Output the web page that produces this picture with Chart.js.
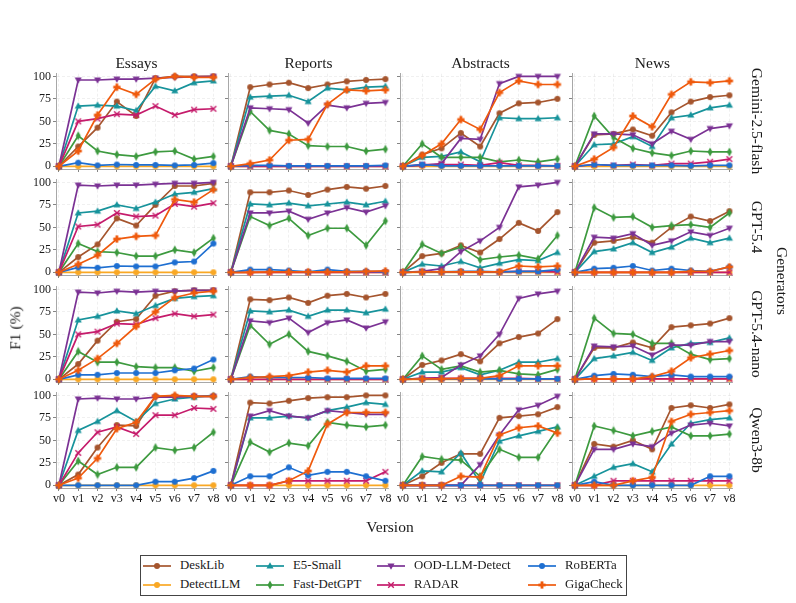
<!DOCTYPE html>
<html><head><meta charset="utf-8">
<script src="https://cdn.jsdelivr.net/npm/chart.js@4/dist/chart.umd.min.js"></script>
<style>
html,body{margin:0;padding:0;background:#fff}
body{width:796px;height:603px;overflow:hidden;position:relative;font-family:"Liberation Serif","DejaVu Serif",serif;color:#1a1a1a}
canvas.p{position:absolute}
.t{position:absolute;white-space:nowrap;font-size:15px;line-height:1}
#legend{position:absolute;left:140px;top:555px;width:485px;height:39px;border:1px solid #444;background:#fff}
.li{position:absolute;font-size:12.8px;line-height:1;white-space:nowrap}
</style></head><body>
<script>
// ---------- categories / labels ----------
const versions = ['v0','v1','v2','v3','v4','v5','v6','v7','v8'];
const methods = ['DeskLib','DetectLLM','E5-Small','Fast-DetGPT','OOD-LLM-Detect','RADAR','RoBERTa','GigaCheck'];
const domains = ['Essays','Reports','Abstracts','News'];
const generators = ['Gemini-2.5-flash','GPT-5.4','GPT-5.4-nano','Qwen3-8b'];
const yTickValues = [0,25,50,75,100];

// ---------- values (rows in the order of `methods`) ----------
const geminiEssays = [
  [0,22,43,72,56,98,100,100,100],
  [0,0,0,0,0,0,0,0,0],
  [0,67,68,67,62,89,84,93,95],
  [0,34,17,13,11,16,17,8,11],
  [0,96,96,97,97,98,99,99.5,100],
  [0,50,53,58,57,67,57,63,64],
  [0,4,1,2,1.5,1.5,1,1.5,3.5],
  [0,17,57,88,80,97,100,99,99]];
const geminiReports = [
  [0,88,91,93,87,91,94.5,96,97],
  [0,0,0,0,0,0,0,0,0],
  [0,77,78,79,72,87,85,88,89],
  [0,61,40,36,23,22,22,17,19],
  [0,65,64,63,48,68,65,70,71],
  [0,0,0,0,0,0,0,0,0],
  [0,1,1,0.5,0.5,0.5,0.5,0.5,1],
  [0,3,7,29,30,69,85,84,85]];
const geminiAbstracts = [
  [0,13,20,37,22,59,70,71,75],
  [0,0,0,0,0,0,0,0,0],
  [0,10,11,16,5,54,53,53,54],
  [0,25,10,10,10,5,7,5,8],
  [0,1,3,31,30,92,100,100,100],
  [0,2,2,2,1,4,1,1,0.5],
  [0,2,0.5,0.5,0.5,0.5,0.5,0.5,0.5],
  [0,12,25,52,41,82,95,91,91]];
const geminiNews = [
  [0,35,36,41,34,60,72,77,79],
  [0,0,0,0,0,0,0,0,0],
  [0,24,25,33,22,54,57,65,68],
  [0,56,32,20,15,12,17,16,16],
  [0,36,36,35,25,39,30,42,45],
  [0,2,1,2,1,3,3,5,8],
  [0,2,1,1,1,1,0.5,1,1],
  [0,8,21,56,44,80,94,93,95]];

const gpt54Essays = [
  [0,17,31,60,52,75,96,96,99],
  [0,0,0,0,0,0,0,0,0],
  [0,66,68,75,71,78,87,89,93],
  [0,32,23,22,18,18,25,22,38],
  [0,97,96,97,97,98,99,99,100],
  [0,51,53,66,62,63,76,73,77],
  [0,5.5,5,7,6.5,6.5,11,12,32],
  [0,9,19,37,40,41,81,78,92]];
const gpt54Reports = [
  [0,89,89,91,86,92,95,93,96],
  [0,0,0,0,0,0,0,0,0],
  [0,76,75,77,74,76,78,75,79],
  [0,62,52,60,41,49,49,30,57],
  [0,66,66,68,59,66,72,67,74],
  [0,0,0,0,0,0,0,0,0],
  [0,3,3,2,0.5,3,1,1,0.5],
  [0,0,0.5,0.5,0.5,0.5,0.5,1,1.5]];
const gpt54Abstracts = [
  [0,18,21,30,22,37,55,46,67],
  [0,0,0,0,0,0,0,0,0],
  [0,9,7,12,5,10,14,13,22],
  [0,31,21,28,14,17,19,15,41],
  [0,1,4,23,35,50,95,97,100],
  [0,0.5,0.5,0.5,0.5,0.5,1,1,0.5],
  [0,0.5,0.5,1,1,0.5,1,1,3],
  [0,0.5,0.5,0.5,0.5,0.5,7,6,7]];
const gpt54News = [
  [0,33,35,39,33,50,62,57,68],
  [0,0,0,0,0,0,0,0,0],
  [0,23,26,33,22,28,38,33,38],
  [0,72,61,62,50,52,53,50,66],
  [0,39,38,43,30,35,45,41,49],
  [0,0,0,0,0,0,0,0,0],
  [0,4,5,7,2,4,2,1,6],
  [0,0,0,0,0,0,1,1,6]];

const nanoEssays = [
  [0,17,43,64,67,93,98,99,99],
  [0,0,0,0,0,0,0,0,0],
  [0,66,70,76,73,82,90,92,93],
  [0,31,19,19,14,13,13,9,13],
  [0,97,96,98,97,98,98,99,99],
  [0,50,53,62,61,68,73,70,72],
  [0,5,5,7,7,7,10,12,22],
  [0,10,23,40,59,75,91,96,98]];
const nanoReports = [
  [0,89,88,91,85,93,95,91,95],
  [0,0,0,0,0,0,0,0,0],
  [0,76,75,77,70,77,77,74,78],
  [0,60,39,50,31,26,20,9,11],
  [0,65,63,68,52,63,66,57,64],
  [0,0,0,0,0,0,0,0,0],
  [0,3,2,2,2,1,1,1,1],
  [0,2,3,4,8,10,8,15,15]];
const nanoAbstracts = [
  [0,16,21,28,20,40,47,51,67],
  [0,0,0,0,0,0,0,0,0],
  [0,8,8,13,5,10,19,19,23],
  [0,26,11,15,8,10,6,5,11],
  [0,1,2,16,26,50,90,95,98],
  [0,1,1,1,1,1,1,0.5,0.5],
  [0,0.5,0.5,0.5,0.5,0.5,0.5,0.5,0.5],
  [0,0.5,0.5,1,1,4,15,15,15]];
const nanoNews = [
  [0,35,35,41,35,58,60,62,68],
  [0,0.5,0.5,0.5,0.5,0.5,0.5,0.5,0.5],
  [0,23,26,30,21,35,40,41,46],
  [0,68,51,50,40,40,28,22,23],
  [0,37,36,37,27,38,38,42,42],
  [0,0.5,0.5,0.5,0.5,0.5,0.5,0.5,0.5],
  [0,4,6,5,3,5,3,3,3],
  [0,0.5,0.5,0.5,3,9,24,28,32]];

const qwenEssays = [
  [0,12,42,67,66,99,99,99,99],
  [0,0,0,0,0,0,0,0,0],
  [0,61,71,83,71,91,96,98,100],
  [0,27,12,20,20,42,39,42,59],
  [0,96,97,96,96,98,98,99,99],
  [0,36,59,65,57,78,78,86,85],
  [0,0,0,0,0,4,4,8,16],
  [0,8,30,63,70,99,100,99,99]];
const qwenReports = [
  [0,92,91,94,97,98,98,100,100],
  [0,0,0,0,0,0,0,0,0],
  [0,75,75,77,75,83,87,92,90],
  [0,48,37,47,44,70,67,65,67],
  [0,77,83,77,75,83,81,79,79],
  [0,0,0,5,5,5,5,5,15],
  [0,10,10,20,11,15,15,10,5],
  [0,0,0,5,16,68,81,81,81]];
const qwenAbstracts = [
  [0,10,25,35,35,75,77,79,87],
  [0,0,0,0,0,0,0,0,0],
  [0,16,15,36,3,49,55,60,65],
  [0,32,29,28,10,40,31,31,63],
  [0,0,0,0,23,56,84,89,99],
  [0,0,0,0,0,0,0,0,0],
  [0,0,0,0,0,0,0,0,0],
  [0,0,0,10,9,56,64,66,58]];
const qwenNews = [
  [0,46,43,50,40,86,89,86,90],
  [0,0,0,0,0,0,0,0,0],
  [0,10,20,24,15,46,69,73,75],
  [0,66,61,55,60,65,55,55,57],
  [0,40,40,46,43,58,67,69,66],
  [0,0,5,5,5,5,5,5,5],
  [0,4,0,0,0,0,0,10,10],
  [0,0,0,5,9,71,79,81,83]];

const panelGrid = [
  [geminiEssays, geminiReports, geminiAbstracts, geminiNews],
  [gpt54Essays, gpt54Reports, gpt54Abstracts, gpt54News],
  [nanoEssays, nanoReports, nanoAbstracts, nanoNews],
  [qwenEssays, qwenReports, qwenAbstracts, qwenNews]];

// ---------- styles ----------
const colors = ['#a5552e','#f9a825','#17939b','#3d9a3f','#7b3294','#c51b6b','#1e6fd1','#ef5a0d'];
const markers = ['circle','circle','tri','thinDiamond','triDown','x','circle','plus'];
const FONT = '"Liberation Serif","DejaVu Serif",serif';

function drawMarker(ctx, kind, x, y, color){
  ctx.save();
  ctx.fillStyle = color; ctx.strokeStyle = color; ctx.lineWidth = 1.4;
  ctx.beginPath();
  if (kind==='circle'){ ctx.arc(x,y,3,0,Math.PI*2); ctx.fill(); }
  else if (kind==='tri'){ ctx.moveTo(x,y-3.8); ctx.lineTo(x+3.5,y+2.4); ctx.lineTo(x-3.5,y+2.4); ctx.closePath(); ctx.fill(); }
  else if (kind==='triDown'){ ctx.moveTo(x,y+3.8); ctx.lineTo(x+3.5,y-2.4); ctx.lineTo(x-3.5,y-2.4); ctx.closePath(); ctx.fill(); }
  else if (kind==='thinDiamond'){ ctx.moveTo(x,y-4.5); ctx.lineTo(x+2.5,y); ctx.lineTo(x,y+4.5); ctx.lineTo(x-2.5,y); ctx.closePath(); ctx.fill(); }
  else if (kind==='x'){ ctx.moveTo(x-2.8,y-2.8); ctx.lineTo(x+2.8,y+2.8); ctx.moveTo(x+2.8,y-2.8); ctx.lineTo(x-2.8,y+2.8); ctx.stroke(); }
  else if (kind==='plus'){ ctx.fillRect(x-1.4,y-3.6,2.8,7.2); ctx.fillRect(x-3.6,y-1.4,7.2,2.8); }
  ctx.restore();
}
function markerImage(kind, color){
  const c = document.createElement('canvas'); c.width = 10; c.height = 10;
  drawMarker(c.getContext('2d'), kind, 5, 5, color);
  return c;
}
const pointStyles = markers.map((m,i)=>markerImage(m, colors[i]));

// ---------- layout ----------
const PL = [56,228,400,572], PW = 161;
const PT = [73,179,286,392], PH = 96;
const YW = 44, XH = 24, PADT = 6, PADR = 6;

function makePanel(r, c){
  const values = panelGrid[r][c];
  const cv = document.createElement('canvas');
  cv.className = 'p';
  cv.width = YW + PW + PADR; cv.height = PADT + PH + XH;
  cv.style.left = (PL[c]-YW)+'px'; cv.style.top = (PT[r]-PADT)+'px';
  document.body.appendChild(cv);
  const showX = r === 3, showY = c === 0;
  const datasets = methods.map((m,i)=>({
    label: m,
    data: values[i].map((v,k)=>({x:k, y:v})),
    borderColor: colors[i], backgroundColor: colors[i],
    borderWidth: 1.7, pointStyle: pointStyles[i], pointRadius: 5,
    tension: 0, clip: false, order: methods.length - i
  }));
  new Chart(cv, {
    type: 'line',
    data: {datasets},
    options: {
      responsive:false, animation:false, devicePixelRatio:1,
      layout:{padding:{left:0,top:PADT,right:PADR,bottom:0}},
      plugins:{legend:{display:false}, tooltip:{enabled:false}},
      scales:{
        x:{type:'linear', min:-0.15, max:8.15,
          afterBuildTicks: s => { s.ticks = versions.map((_,k)=>({value:k})); },
          afterFit: s => { s.height = XH; s.paddingLeft = 0; s.paddingRight = 0; },
          ticks:{callback: v => versions[v], color: showX ? '#1a1a1a' : 'rgba(0,0,0,0)',
                 font:{family:FONT, size:12}, padding:1, maxRotation:0, autoSkip:false},
          grid:{color:'rgba(0,0,0,0.08)', lineWidth:0.8, tickColor:'#666', tickLength:3},
          border:{display:true, color:'#a8a8a8', width:1, dash:[3,2]}
        },
        y:{type:'linear', min:-3, max:103,
          afterBuildTicks: s => { s.ticks = yTickValues.map(v=>({value:v})); },
          afterFit: s => { s.width = YW; s.paddingTop = 0; s.paddingBottom = 0; },
          ticks:{color: showY ? '#1a1a1a' : 'rgba(0,0,0,0)', font:{family:FONT, size:12}, padding:2},
          grid:{color:'rgba(0,0,0,0.08)', lineWidth:0.8, tickColor:'#666', tickLength:3},
          border:{display:true, color:'#a8a8a8', width:1, dash:[3,2]}
        }
      }
    }
  });
}
for (let r=0;r<4;r++) for (let c=0;c<4;c++) makePanel(r,c);

function addText(txt, x, y, rot, size){
  const d = document.createElement('div');
  d.className = 't'; d.textContent = txt;
  d.style.left = x+'px'; d.style.top = y+'px';
  if (size) d.style.fontSize = size+'px';
  d.style.transform = 'translate(-50%,-50%)' + (rot ? ' rotate('+rot+'deg)' : '');
  document.body.appendChild(d);
}
domains.forEach((d,c)=>addText(d, PL[c]+PW/2, 63, 0, 15.5));
generators.forEach((g,r)=>addText(g, 757, PT[r]+PH/2, 90, 15.5));
addText('Generators', 782, 281, 90, 15.5);
addText('F1 (%)', 15, 328, -90, 15.5);
addText('Version', 390, 527, 0, 15.5);

// ---------- legend ----------
const lg = document.createElement('div'); lg.id = 'legend'; document.body.appendChild(lg);
const colX = [2,115,236,387], rowY = [10,29];
methods.forEach((m,i)=>{
  const col = Math.floor(i/2), row = i%2;
  const c = document.createElement('canvas'); c.width = 28; c.height = 12;
  c.style.position='absolute'; c.style.left = colX[col]+'px'; c.style.top = (rowY[row]-6)+'px';
  const ctx = c.getContext('2d');
  ctx.strokeStyle = colors[i]; ctx.lineWidth = 1.7;
  ctx.beginPath(); ctx.moveTo(0,6); ctx.lineTo(28,6); ctx.stroke();
  drawMarker(ctx, markers[i], 14, 6, colors[i]);
  lg.appendChild(c);
  const t = document.createElement('div'); t.className='li'; t.textContent = m;
  t.style.left = (colX[col]+37)+'px'; t.style.top = (rowY[row]-7)+'px';
  lg.appendChild(t);
});
</script>
</body></html>
